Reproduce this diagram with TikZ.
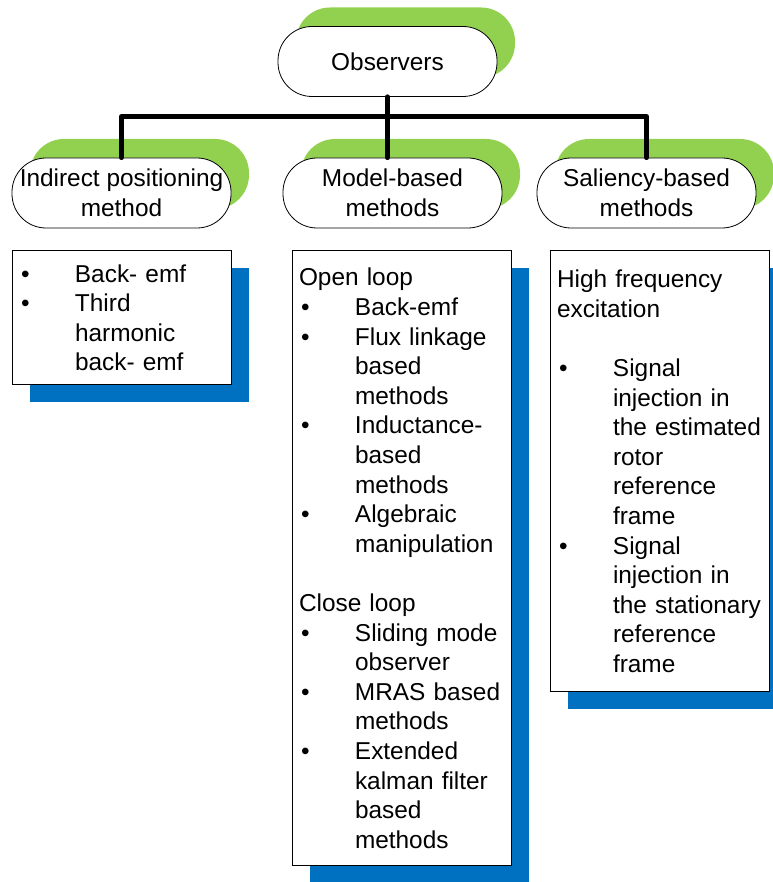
\documentclass[tikz,border=0pt]{standalone}
\usepackage{fontspec}
\setmainfont{Liberation Sans}
\usepackage{tikz}
\usetikzlibrary{shapes,arrows,positioning,shadows}
\definecolor{LeafGreen}{HTML}{92D050}
\definecolor{OfficeBlue}{HTML}{0070C0}
\newcommand{\ItemBullet}{\makebox[56pt][l]{\hspace*{2pt}\textbullet}}
\newcommand{\ItemIndent}{\hspace*{56pt}}
\tikzstyle{Head} = [draw, fill=white, rectangle, rounded corners=34pt, minimum width=219pt, minimum height=70pt, inner xsep=2pt, align=center, line width=0.8pt, drop shadow={fill=LeafGreen, opacity=1, shadow xshift=18pt, shadow yshift=19pt}]
\tikzstyle{List} = [draw, fill=white, rectangle, text width=205pt, inner xsep=7pt, align=left, line width=0.8pt, drop shadow={fill=OfficeBlue, opacity=1, shadow xshift=18pt, shadow yshift=-17pt}]
\tikzstyle{Bus} = [line width=5pt, line cap=round, line join=round]

\begin{document}
\begin{tikzpicture}[x=1pt, y=-1pt, font=\fontsize{24.4}{29.6}\selectfont]
    \useasboundingbox (0,0) rectangle (772,882);
    \node[Head] (observers) at (387.5,61.5)                         {Observers};
    \node[Head] (indirect)  at (121.5,193)                          {Indirect positioning\\method};
    \node[Head] (model)     at (392.5,193)                          {Model-based\\methods};
    \node[Head] (saliency)  at (646.5,193)                          {Saliency-based\\methods};
    \node[List, minimum height=134pt] (indirectlist) [below=22pt of indirect] {%
      \ItemBullet Back- emf\\
      \ItemBullet Third\\
      \ItemIndent harmonic\\
      \ItemIndent back- emf};
    \node[List, minimum height=615pt] (modellist) [below=22pt of model, xshift=9pt] {%
      Open loop\\
      \ItemBullet Back-emf\\
      \ItemBullet Flux linkage\\
      \ItemIndent based\\
      \ItemIndent methods\\
      \ItemBullet Inductance-\\
      \ItemIndent based\\
      \ItemIndent methods\\
      \ItemBullet Algebraic\\
      \ItemIndent manipulation\\[29.6pt]
      Close loop\\
      \ItemBullet Sliding mode\\
      \ItemIndent observer\\
      \ItemBullet MRAS based\\
      \ItemIndent methods\\
      \ItemBullet Extended\\
      \ItemIndent kalman filter\\
      \ItemIndent based\\
      \ItemIndent methods};
    \node[List, minimum height=441pt] (saliencylist) [below=22pt of saliency, xshift=13pt] {%
      High frequency\\
      excitation\\[29.6pt]
      \ItemBullet Signal\\
      \ItemIndent injection in\\
      \ItemIndent the estimated\\
      \ItemIndent rotor\\
      \ItemIndent reference\\
      \ItemIndent frame\\
      \ItemBullet Signal\\
      \ItemIndent injection in\\
      \ItemIndent the stationary\\
      \ItemIndent reference\\
      \ItemIndent frame};
    \draw[Bus] (observers.south) -- (observers.south |- model.north);
    \draw[Bus] (indirect.north) -- ++(0,-41) -| (saliency.north);
  \end{tikzpicture}
\end{document}
